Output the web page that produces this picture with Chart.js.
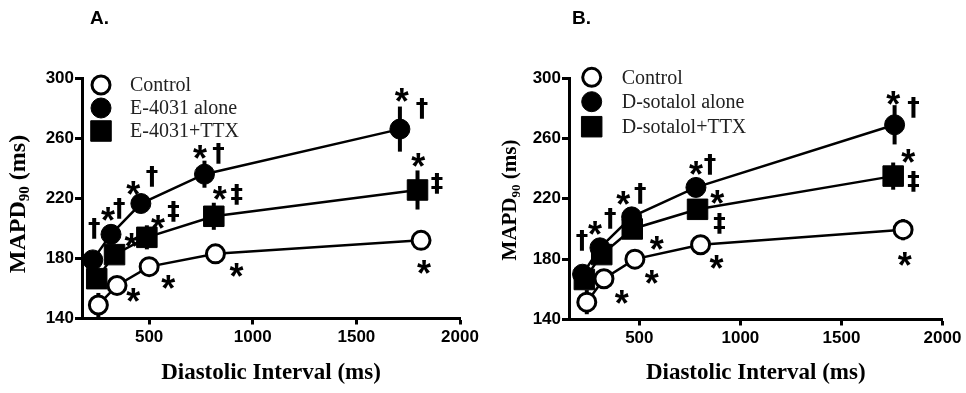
<!DOCTYPE html>
<html><head><meta charset="utf-8">
<script src="https://cdn.jsdelivr.net/npm/chart.js@4"></script>
<style>
html,body{margin:0;padding:0;background:#fff;}
#wrap{position:relative;width:966px;height:393px;overflow:hidden;}
.pane{position:absolute;top:0;width:483px;height:393px;}
#pa{left:0;} #pb{left:483px;}
canvas{display:block;}
</style></head><body>
<div id="wrap"><div class="pane" id="pa"><canvas id="ca" width="483" height="393"></canvas></div><div class="pane" id="pb"><canvas id="cb" width="483" height="393"></canvas></div></div>
<script>
// ---------- data ----------
const xTicks = [500, 1000, 1500, 2000];
const yTicks = [140, 180, 220, 260, 300];
const panelTitles = ['A.', 'B.'];
const xTitle = 'Diastolic Interval (ms)';
const yTitleMain = 'MAPD', yTitleSub = '90', yTitleUnit = ' (ms)';

const labelsA = ['Control', 'E-4031 alone', 'E-4031+TTX'];
const xA_control = [255, 345, 500, 820, 1812];
const yA_control = [149, 162, 174.5, 183, 192];
const eA_control = [8, 3, 3, 4, 6];
const xA_drug = [228, 316, 460, 767, 1710];
const yA_drug = [179, 196, 216.5, 236, 266];
const eA_drug = [4, 4, 4, 9, 15];
const xA_ttx = [247, 333, 489, 812, 1795];
const yA_ttx = [166.5, 182.5, 194, 208, 225.5];
const eA_ttx = [4, 4, 8, 9, 13];

const labelsB = ['Control', 'D-sotalol alone', 'D-sotalol+TTX'];
const xB_control = [240, 325, 478, 803, 1805];
const yB_control = [151.5, 167, 180, 189.5, 199.5];
const eB_control = [8, 3, 3, 4, 7];
const xB_drug = [219, 305, 462, 780, 1763];
const yB_drug = [170, 187.5, 208, 227.5, 269];
const eB_drug = [4, 4, 6, 5, 13];
const xB_ttx = [228, 314, 465, 788, 1756];
const yB_ttx = [166.5, 183, 200, 213, 235];
const eB_ttx = [4, 4, 4, 3, 9];

// significance marks: [symbol, x value, y value]
const marksA = [
  ['*', 423, 155.5], ['*', 592, 164.4], ['*', 922, 172.2], ['*', 1826, 174.4],
  ['†', 234, 200], ['*', 302, 209.3], ['†', 355, 213.3], ['*', 423, 226.7], ['†', 512, 234.4],
  ['*', 745, 251], ['†', 833, 250], ['*', 1719, 288.9], ['†', 1815, 280],
  ['*', 415, 192.2], ['*', 543, 204.4], ['‡', 616, 211], ['*', 841, 223.3], ['‡', 922, 222.2],
  ['*', 1799, 245.5], ['‡', 1888, 230]
];
const marksB = [
  ['*', 413, 154.7], ['*', 561, 168], ['*', 586, 190.7], ['*', 882, 178], ['*', 1813, 180.3],
  ['†', 215, 192.5], ['*', 281, 200.3], ['†', 355, 207], ['*', 420, 220.3], ['†', 503, 223.6],
  ['*', 780, 240.3], ['†', 849, 242.5], ['*', 1756, 287], ['†', 1855, 280.3],
  ['*', 885, 221.3], ['‡', 895, 203.6], ['*', 1830, 248], ['‡', 1855, 231.3]
];

// ---------- helpers ----------
function pts(xs, ys, es) { return xs.map((x, i) => ({x: x, y: ys[i], e: es[i]})); }

const SANS = "'Liberation Sans', Arial, sans-serif";
const SERIF = "'Liberation Serif', 'Times New Roman', serif";
const MARKFONT = "'DejaVu Sans', sans-serif";

function makeChart(canvasId, cfg) {
  const styles = [
    {pointStyle: 'circle', radius: 9, bw: 3, bg: '#fff'},
    {pointStyle: 'circle', radius: 10, bw: 1, bg: '#000'},
    {pointStyle: 'rect', radius: 14.5, bw: 1, bg: '#000'}
  ];
  const datasets = [
    {label: cfg.labels[1], data: pts(cfg.drug[0], cfg.drug[1], cfg.drug[2]), st: styles[1], order: 3},
    {label: cfg.labels[2], data: pts(cfg.ttx[0], cfg.ttx[1], cfg.ttx[2]), st: styles[2], order: 2},
    {label: cfg.labels[0], data: pts(cfg.control[0], cfg.control[1], cfg.control[2]), st: styles[0], order: 1}
  ].map(d => ({
    label: d.label, data: d.data, order: d.order, showLine: true,
    borderColor: '#000', borderWidth: 2.5,
    pointStyle: d.st.pointStyle, pointRadius: d.st.radius, pointHoverRadius: d.st.radius,
    pointBorderWidth: d.st.bw, pointBackgroundColor: d.st.bg, pointBorderColor: '#000',
    backgroundColor: d.st.bg, _st: d.st
  }));

  const overlay = {
    id: 'overlay',
    beforeDatasetsDraw(chart) {
      const ctx = chart.ctx, xs = chart.scales.x, ys = chart.scales.y;
      ctx.save();
      ctx.strokeStyle = '#000'; ctx.lineWidth = 4; ctx.lineCap = 'butt';
      chart.data.datasets.forEach(ds => ds.data.forEach(p => {
        const px = xs.getPixelForValue(p.x);
        ctx.beginPath();
        ctx.moveTo(px, ys.getPixelForValue(p.y - p.e));
        ctx.lineTo(px, ys.getPixelForValue(p.y + p.e));
        ctx.stroke();
      }));
      ctx.restore();
    },
    afterDraw(chart) {
      const ctx = chart.ctx, xs = chart.scales.x, ys = chart.scales.y, ca = chart.chartArea;
      ctx.save();
      // significance marks
      ctx.fillStyle = '#000';
      ctx.textBaseline = 'alphabetic'; ctx.textAlign = 'left';
      cfg.marks.forEach(m => {
        ctx.font = m[0] === '*' ? ('bold 36px ' + SANS) : ('bold 25px ' + MARKFONT);
        const mt = ctx.measureText(m[0]);
        const cx = xs.getPixelForValue(m[1]), cy = ys.getPixelForValue(m[2]);
        const w = mt.actualBoundingBoxRight + mt.actualBoundingBoxLeft;
        const h = mt.actualBoundingBoxAscent + mt.actualBoundingBoxDescent;
        ctx.fillText(m[0], cx - w / 2 + mt.actualBoundingBoxLeft, cy + h / 2 - mt.actualBoundingBoxDescent);
      });
      // legend
      const order = [2, 0, 1];
      order.forEach((di, row) => {
        const ds = chart.data.datasets[di];
        const y = ca.top + cfg.legY[row];
        const x = ca.left + cfg.legX;
        ctx.fillStyle = ds._st.bg; ctx.strokeStyle = '#000'; ctx.lineWidth = ds._st.bw;
        Chart.helpers.drawPoint(ctx, {pointStyle: ds._st.pointStyle, radius: ds._st.radius, borderWidth: ds._st.bw}, x, y);
        ctx.fillStyle = '#222';
        ctx.font = '20px ' + SERIF; ctx.textBaseline = 'middle'; ctx.textAlign = 'left';
        ctx.fillText(ds.label, ca.left + cfg.legTextX, y + 1);
      });
      // panel title
      ctx.fillStyle = '#000';
      ctx.font = 'bold 19px ' + SANS; ctx.textAlign = 'left'; ctx.textBaseline = 'middle';
      ctx.fillText(cfg.title, cfg.titleX, 19);
      // x title
      ctx.font = 'bold 23px ' + SERIF; ctx.textAlign = 'center'; ctx.textBaseline = 'middle';
      ctx.fillText(xTitle, (ca.left + ca.right) / 2, 373);
      // y title with subscript
      const f = cfg.yFont;
      ctx.translate(cfg.yTitleX, cfg.yTitleY);
      ctx.rotate(-Math.PI / 2);
      ctx.textAlign = 'left'; ctx.textBaseline = 'middle';
      ctx.font = 'bold ' + f + 'px ' + SERIF; const w1 = ctx.measureText(yTitleMain).width;
      const w3 = ctx.measureText(yTitleUnit).width;
      ctx.font = 'bold ' + Math.round(f * 0.62) + 'px ' + SERIF; const w2 = ctx.measureText(yTitleSub).width;
      let x0 = -(w1 + w2 + w3) / 2;
      ctx.font = 'bold ' + f + 'px ' + SERIF; ctx.fillText(yTitleMain, x0, 0);
      ctx.font = 'bold ' + Math.round(f * 0.62) + 'px ' + SERIF; ctx.fillText(yTitleSub, x0 + w1, f * 0.28);
      ctx.font = 'bold ' + f + 'px ' + SERIF; ctx.fillText(yTitleUnit, x0 + w1 + w2, 0);
      ctx.restore();
    }
  };

  return new Chart(document.getElementById(canvasId), {
    type: 'scatter',
    data: {datasets: datasets},
    options: {
      responsive: false, animation: false, events: [],
      layout: {padding: {left: 0, right: cfg.padRight, top: 78, bottom: 0}},
      plugins: {legend: {display: false}, tooltip: {enabled: false}},
      scales: {
        x: {
          type: 'linear', min: cfg.xMin, max: 2000,
          afterBuildTicks: s => { s.ticks = xTicks.map(v => ({value: v})); },
          afterFit: s => { s.height = cfg.xHeight; s.paddingLeft = 0; s.paddingRight = 0; },
          border: {display: true, color: '#000', width: 3},
          grid: {display: true, drawOnChartArea: false, drawTicks: true, tickLength: 6, tickWidth: 3, tickColor: '#000', color: '#000'},
          ticks: {color: '#000', font: {family: SANS, size: 17, weight: 'bold'}, padding: 3, maxRotation: 0, autoSkip: false,
                  callback: v => String(v)}
        },
        y: {
          type: 'linear', min: 140, max: 300,
          afterBuildTicks: s => { s.ticks = yTicks.map(v => ({value: v})); },
          afterFit: s => { s.width = cfg.yWidth; s.paddingTop = 0; s.paddingBottom = 0; },
          border: {display: true, color: '#000', width: 3},
          grid: {display: true, drawOnChartArea: false, drawTicks: true, tickLength: 7, tickWidth: 3, tickColor: '#000', color: '#000'},
          ticks: {color: '#000', font: {family: SANS, size: 17, weight: 'bold'}, padding: 1, autoSkip: false,
                  callback: v => String(v)}
        }
      }
    },
    plugins: [overlay]
  });
}

makeChart('ca', {
  labels: labelsA, control: [xA_control, yA_control, eA_control], drug: [xA_drug, yA_drug, eA_drug], ttx: [xA_ttx, yA_ttx, eA_ttx],
  marks: marksA, title: panelTitles[0], titleX: 90, xMin: 176, padRight: 23, yWidth: 82, xHeight: 74.5,
  legX: 19, legTextX: 48, legY: [7, 30, 53], yTitleX: 18.5, yTitleY: 204, yFont: 24
});
makeChart('cb', {
  labels: labelsB, control: [xB_control, yB_control, eB_control], drug: [xB_drug, yB_drug, eB_drug], ttx: [xB_ttx, yB_ttx, eB_ttx],
  marks: marksB, title: panelTitles[1], titleX: 89, xMin: 152, padRight: 23.5, yWidth: 86, xHeight: 73.5,
  legX: 22.7, legTextX: 52.7, legY: [-0.7, 23.7, 48.7], yTitleX: 27.5, yTitleY: 200, yFont: 21
});
</script>
</body></html>
